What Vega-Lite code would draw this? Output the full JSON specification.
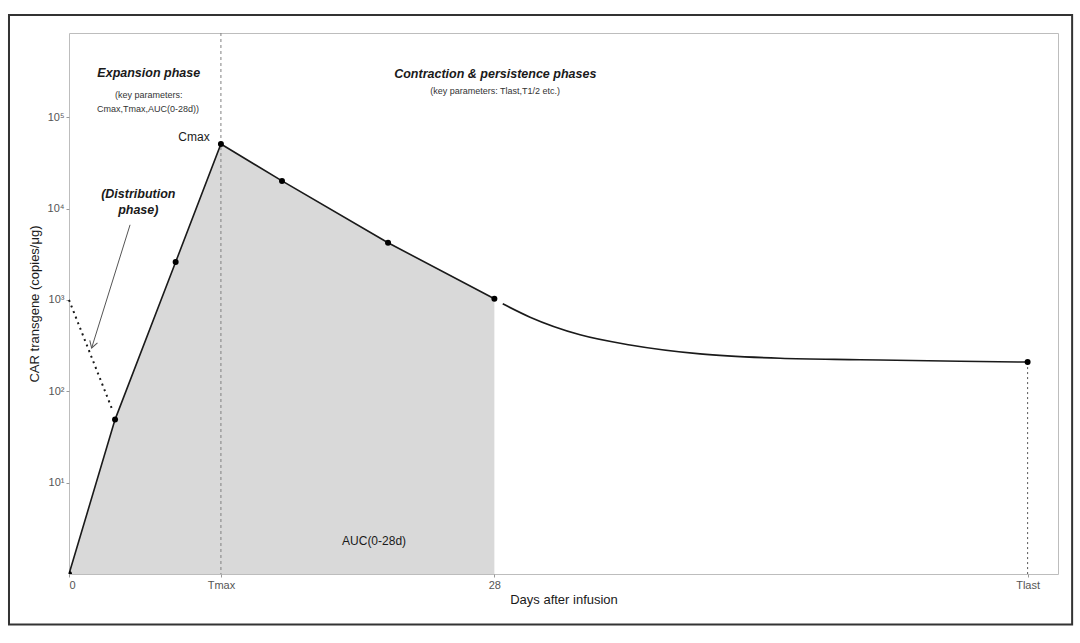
{
  "$schema": "https://vega.github.io/schema/vega-lite/v6.json",
  "width": 989,
  "height": 541,
  "autosize": "none",
  "padding": {"left": 69, "top": 33, "right": 22, "bottom": 69},
  "background": "white",
  "config": {
    "font": "Liberation Sans",
    "view": {"stroke": "#bdbdbd", "strokeWidth": 1},
    "axis": {"grid": false, "domain": false, "tickColor": "#9a9a9a", "tickSize": 3, "labelColor": "#555555", "labelFontSize": 11, "titleFontSize": 13, "titleFontWeight": "normal", "titleColor": "#1a1a1a"}
  },
  "datasets": {
    "main": [
      {"day": 0, "value": 1},
      {"day": 3.03, "value": 49},
      {"day": 7.02, "value": 2600},
      {"day": 10, "value": 51000},
      {"day": 14.02, "value": 20100},
      {"day": 21, "value": 4230},
      {"day": 28, "value": 1030}
    ],
    "tail": [
      {"day": 28.55, "value": 908},
      {"day": 30.35, "value": 648},
      {"day": 33.64, "value": 416},
      {"day": 36.93, "value": 322},
      {"day": 41.54, "value": 257},
      {"day": 46.81, "value": 230},
      {"day": 52.07, "value": 222},
      {"day": 58.66, "value": 213},
      {"day": 63.1, "value": 209}
    ],
    "points": [
      {"day": 0, "value": 1},
      {"day": 3.03, "value": 49},
      {"day": 7.02, "value": 2600},
      {"day": 10, "value": 51000},
      {"day": 14.02, "value": 20100},
      {"day": 21, "value": 4230},
      {"day": 28, "value": 1030},
      {"day": 63.1, "value": 209}
    ],
    "dotted": [
      {"day": 0, "value": 1000},
      {"day": 2.9, "value": 60}
    ],
    "one": [{}]
  },
  "layer": [
    {
      "data": {"name": "main"},
      "mark": {"type": "area", "color": "#d9d9d9", "opacity": 1},
      "encoding": {
        "x": {"field": "day", "type": "quantitative", "scale": {"domain": [0, 65.1], "nice": false, "zero": false},
          "axis": {"values": [0, 10, 28, 63.1], "labelExpr": "datum.value == 10 ? 'Tmax' : datum.value == 63.1 ? 'Tlast' : datum.label", "labelPadding": 2, "titlePadding": 3, "title": "Days after infusion"}},
        "y": {"field": "value", "type": "quantitative", "scale": {"type": "log", "domain": [1, 837000], "nice": false},
          "axis": {"values": [10, 100, 1000, 10000, 100000], "labelExpr": "datum.value == 10 ? '10¹' : datum.value == 100 ? '10²' : datum.value == 1000 ? '10³' : datum.value == 10000 ? '10⁴' : '10⁵'", "labelPadding": 2, "titlePadding": 6, "title": "CAR transgene (copies/μg)"}},
        "y2": {"datum": 1}
      }
    },
    {
      "data": {"name": "one"},
      "mark": {"type": "rect", "filled": false, "stroke": "#333333", "strokeWidth": 2, "clip": false},
      "encoding": {
        "x": {"datum": -3.95, "type": "quantitative", "scale": {"domain": [0, 65.1], "nice": false, "zero": false}},
        "x2": {"datum": 66.03},
        "y": {"datum": 1318000, "type": "quantitative", "scale": {"type": "log", "domain": [1, 837000], "nice": false}},
        "y2": {"datum": 0.2795}
      }
    },
    {
      "data": {"name": "one"},
      "mark": {"type": "rule", "color": "#808080", "strokeWidth": 1, "strokeDash": [3, 3]},
      "encoding": {"x": {"datum": 10, "type": "quantitative", "scale": {"domain": [0, 65.1], "nice": false, "zero": false}}}
    },
    {
      "data": {"name": "one"},
      "mark": {"type": "rule", "color": "#555555", "strokeWidth": 1, "strokeDash": [2, 3]},
      "encoding": {
        "x": {"datum": 63.1, "type": "quantitative", "scale": {"domain": [0, 65.1], "nice": false, "zero": false}},
        "y": {"datum": 209, "type": "quantitative", "scale": {"type": "log", "domain": [1, 837000], "nice": false}},
        "y2": {"datum": 1}
      }
    },
    {
      "data": {"name": "main"},
      "mark": {"type": "line", "color": "#1a1a1a", "strokeWidth": 1.6},
      "encoding": {
        "x": {"field": "day", "type": "quantitative", "scale": {"domain": [0, 65.1], "nice": false, "zero": false}},
        "y": {"field": "value", "type": "quantitative", "scale": {"type": "log", "domain": [1, 837000], "nice": false}}
      }
    },
    {
      "data": {"name": "tail"},
      "mark": {"type": "line", "color": "#1a1a1a", "strokeWidth": 1.6, "interpolate": "monotone"},
      "encoding": {
        "x": {"field": "day", "type": "quantitative", "scale": {"domain": [0, 65.1], "nice": false, "zero": false}},
        "y": {"field": "value", "type": "quantitative", "scale": {"type": "log", "domain": [1, 837000], "nice": false}}
      }
    },
    {
      "data": {"name": "dotted"},
      "mark": {"type": "line", "color": "#1a1a1a", "strokeWidth": 2, "strokeDash": [2, 4]},
      "encoding": {
        "x": {"field": "day", "type": "quantitative", "scale": {"domain": [0, 65.1], "nice": false, "zero": false}},
        "y": {"field": "value", "type": "quantitative", "scale": {"type": "log", "domain": [1, 837000], "nice": false}}
      }
    },
    {
      "data": {"name": "one"},
      "mark": {"type": "rule", "color": "#555555", "strokeWidth": 1},
      "encoding": {
        "x": {"datum": 4.02, "type": "quantitative", "scale": {"domain": [0, 65.1], "nice": false, "zero": false}},
        "y": {"datum": 6650, "type": "quantitative", "scale": {"type": "log", "domain": [1, 837000], "nice": false}},
        "x2": {"datum": 1.49},
        "y2": {"datum": 298}
      }
    },
    {
      "data": {"name": "one"},
      "mark": {"type": "point", "shape": "M -0.6 1 L 0 0 L 0.6 1", "angle": 197.3, "size": 180, "filled": false, "stroke": "#555555", "strokeWidth": 1, "opacity": 1},
      "encoding": {
        "x": {"datum": 1.49, "type": "quantitative", "scale": {"domain": [0, 65.1], "nice": false, "zero": false}},
        "y": {"datum": 298, "type": "quantitative", "scale": {"type": "log", "domain": [1, 837000], "nice": false}}
      }
    },
    {
      "data": {"name": "points"},
      "mark": {"type": "circle", "color": "#000000", "size": 36, "opacity": 1, "clip": true},
      "encoding": {
        "x": {"field": "day", "type": "quantitative", "scale": {"domain": [0, 65.1], "nice": false, "zero": false}},
        "y": {"field": "value", "type": "quantitative", "scale": {"type": "log", "domain": [1, 837000], "nice": false}}
      }
    },
    {
      "data": {"name": "one"},
      "mark": {"type": "text", "fontSize": 12.5, "fontWeight": "bold", "fontStyle": "italic", "color": "#1a1a1a", "align": "center", "baseline": "middle"},
      "encoding": {
        "x": {"datum": 5.25, "type": "quantitative", "scale": {"domain": [0, 65.1], "nice": false, "zero": false}},
        "y": {"datum": 303700, "type": "quantitative", "scale": {"type": "log", "domain": [1, 837000], "nice": false}},
        "text": {"value": "Expansion phase"}
      }
    },
    {
      "data": {"name": "one"},
      "mark": {"type": "text", "fontSize": 9, "color": "#333333", "align": "center", "baseline": "middle"},
      "encoding": {
        "x": {"datum": 5.25, "type": "quantitative", "scale": {"domain": [0, 65.1], "nice": false, "zero": false}},
        "y": {"datum": 175800, "type": "quantitative", "scale": {"type": "log", "domain": [1, 837000], "nice": false}},
        "text": {"value": "(key parameters:"}
      }
    },
    {
      "data": {"name": "one"},
      "mark": {"type": "text", "fontSize": 9, "color": "#333333", "align": "center", "baseline": "middle"},
      "encoding": {
        "x": {"datum": 5.2, "type": "quantitative", "scale": {"domain": [0, 65.1], "nice": false, "zero": false}},
        "y": {"datum": 123600, "type": "quantitative", "scale": {"type": "log", "domain": [1, 837000], "nice": false}},
        "text": {"value": "Cmax,Tmax,AUC(0-28d))"}
      }
    },
    {
      "data": {"name": "one"},
      "mark": {"type": "text", "fontSize": 12, "color": "#1a1a1a", "align": "center", "baseline": "middle"},
      "encoding": {
        "x": {"datum": 8.23, "type": "quantitative", "scale": {"domain": [0, 65.1], "nice": false, "zero": false}},
        "y": {"datum": 61000, "type": "quantitative", "scale": {"type": "log", "domain": [1, 837000], "nice": false}},
        "text": {"value": "Cmax"}
      }
    },
    {
      "data": {"name": "one"},
      "mark": {"type": "text", "fontSize": 12.5, "fontWeight": "bold", "fontStyle": "italic", "color": "#1a1a1a", "align": "center", "baseline": "middle"},
      "encoding": {
        "x": {"datum": 4.56, "type": "quantitative", "scale": {"domain": [0, 65.1], "nice": false, "zero": false}},
        "y": {"datum": 14500, "type": "quantitative", "scale": {"type": "log", "domain": [1, 837000], "nice": false}},
        "text": {"value": "(Distribution"}
      }
    },
    {
      "data": {"name": "one"},
      "mark": {"type": "text", "fontSize": 12.5, "fontWeight": "bold", "fontStyle": "italic", "color": "#1a1a1a", "align": "center", "baseline": "middle"},
      "encoding": {
        "x": {"datum": 4.56, "type": "quantitative", "scale": {"domain": [0, 65.1], "nice": false, "zero": false}},
        "y": {"datum": 9700, "type": "quantitative", "scale": {"type": "log", "domain": [1, 837000], "nice": false}},
        "text": {"value": "phase)"}
      }
    },
    {
      "data": {"name": "one"},
      "mark": {"type": "text", "fontSize": 12.5, "fontWeight": "bold", "fontStyle": "italic", "color": "#1a1a1a", "align": "center", "baseline": "middle"},
      "encoding": {
        "x": {"datum": 28.06, "type": "quantitative", "scale": {"domain": [0, 65.1], "nice": false, "zero": false}},
        "y": {"datum": 298500, "type": "quantitative", "scale": {"type": "log", "domain": [1, 837000], "nice": false}},
        "text": {"value": "Contraction & persistence phases"}
      }
    },
    {
      "data": {"name": "one"},
      "mark": {"type": "text", "fontSize": 9, "color": "#333333", "align": "center", "baseline": "middle"},
      "encoding": {
        "x": {"datum": 28.05, "type": "quantitative", "scale": {"domain": [0, 65.1], "nice": false, "zero": false}},
        "y": {"datum": 196000, "type": "quantitative", "scale": {"type": "log", "domain": [1, 837000], "nice": false}},
        "text": {"value": "(key parameters: Tlast,T1/2 etc.)"}
      }
    },
    {
      "data": {"name": "one"},
      "mark": {"type": "text", "fontSize": 12, "color": "#1a1a1a", "align": "center", "baseline": "middle"},
      "encoding": {
        "x": {"datum": 20.08, "type": "quantitative", "scale": {"domain": [0, 65.1], "nice": false, "zero": false}},
        "y": {"datum": 2.32, "type": "quantitative", "scale": {"type": "log", "domain": [1, 837000], "nice": false}},
        "text": {"value": "AUC(0-28d)"}
      }
    }
  ]
}
